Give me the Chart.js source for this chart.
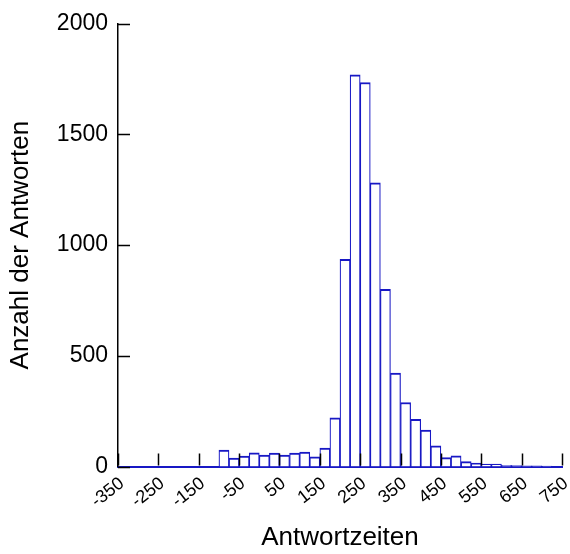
<!DOCTYPE html>
<html>
<head>
<meta charset="utf-8">
<script src="https://cdn.jsdelivr.net/npm/chart.js@4/dist/chart.umd.min.js"></script>
<style>
  html, body { margin: 0; padding: 0; background: #fff; }
  canvas { display: block; }
</style>
</head>
<body>
<canvas id="chart" width="570" height="554"></canvas>
<script>
// bin starts (width 25) and counts
const binStarts = [-100, -75, -50, -25, 0, 25, 50, 75, 100, 125, 150, 175, 200, 225, 250, 275,
  300, 325, 350, 375, 400, 425, 450, 475, 500, 525, 550, 575, 600, 625, 650, 675, 700];
const counts = [74, 38, 47, 62, 52, 61, 52, 61, 65, 44, 83, 220, 936, 1770, 1735, 1281,
  800, 422, 289, 213, 164, 93, 40, 48, 22, 16, 11, 11, 5, 4, 3, 3, 2];
const binWidth = 25;
const xTicks = [-350, -250, -150, -50, 50, 150, 250, 350, 450, 550, 650, 750];
const yTicks = [0, 500, 1000, 1500, 2000];

const barColor = 'rgb(24, 24, 196)';
const font = '"Liberation Sans", Arial, sans-serif';

// short tick marks pointing into the plot + slanted x labels
const innerTicks = {
  id: 'innerTicks',
  afterDraw(chart) {
    const { ctx, chartArea, scales } = chart;
    ctx.save();
    ctx.strokeStyle = '#000';
    ctx.lineWidth = 1.5;
    ctx.beginPath();
    yTicks.forEach(v => {
      const y = Math.round(scales.y.getPixelForValue(v)) + 0.5;
      ctx.moveTo(chartArea.left, y);
      ctx.lineTo(chartArea.left + 12, y);
    });
    xTicks.forEach(v => {
      const x = Math.round(scales.x.getPixelForValue(v)) + 0.5;
      ctx.moveTo(x, chartArea.bottom - 1);
      ctx.lineTo(x, chartArea.bottom - 13);
    });
    ctx.stroke();

    ctx.fillStyle = '#000';
    ctx.font = '18px ' + font;
    ctx.textAlign = 'right';
    ctx.textBaseline = 'middle';
    xTicks.forEach(v => {
      const x = scales.x.getPixelForValue(v);
      ctx.save();
      ctx.translate(x + 4, chartArea.bottom + 15);
      ctx.rotate(-38 * Math.PI / 180);
      ctx.fillText(String(v), 0, 0);
      ctx.restore();
    });
    ctx.restore();
  }
};

new Chart(document.getElementById('chart'), {
  type: 'bar',
  data: {
    datasets: [{
      data: binStarts.map((b, i) => ({ x: b + binWidth / 2, y: counts[i] })),
      backgroundColor: '#fff',
      borderColor: barColor,
      borderWidth: { top: 2, left: 1.2, right: 1.2, bottom: 0 },
      borderSkipped: 'start',
      barPercentage: 1,
      categoryPercentage: 1,
    }]
  },
  options: {
    responsive: false,
    animation: false,
    layout: { padding: { top: 20, right: 8, left: 0, bottom: 0 } },
    plugins: { legend: { display: false }, tooltip: { enabled: false } },
    scales: {
      x: {
        type: 'linear',
        offset: false,
        min: -350,
        max: 750,
        afterBuildTicks: scale => { scale.ticks = xTicks.map(v => ({ value: v })); },
        afterFit: scale => { scale.height = 87.5; },
        grid: { display: false, drawTicks: false },
        border: { display: true, color: barColor, width: 2 },
        ticks: { display: false },
        title: {
          display: true,
          text: 'Antwortzeiten',
          color: '#000',
          font: { family: font, size: 26 },
          padding: { top: 4, bottom: 1 },
        },
      },
      y: {
        min: 0,
        max: 2000,
        afterBuildTicks: scale => { scale.ticks = yTicks.map(v => ({ value: v })); },
        afterFit: scale => { scale.width = 118; },
        grid: { display: false, drawTicks: false },
        border: { display: true, color: '#000', width: 1.5 },
        ticks: {
          padding: 10,
          color: '#000',
          font: { family: font, size: 23 },
          callback: v => String(v),
        },
        title: {
          display: true,
          text: 'Anzahl der Antworten',
          color: '#000',
          font: { family: font, size: 26 },
          padding: { top: 5, bottom: 0 },
        },
      }
    }
  },
  plugins: [innerTicks]
});
</script>
</body>
</html>
